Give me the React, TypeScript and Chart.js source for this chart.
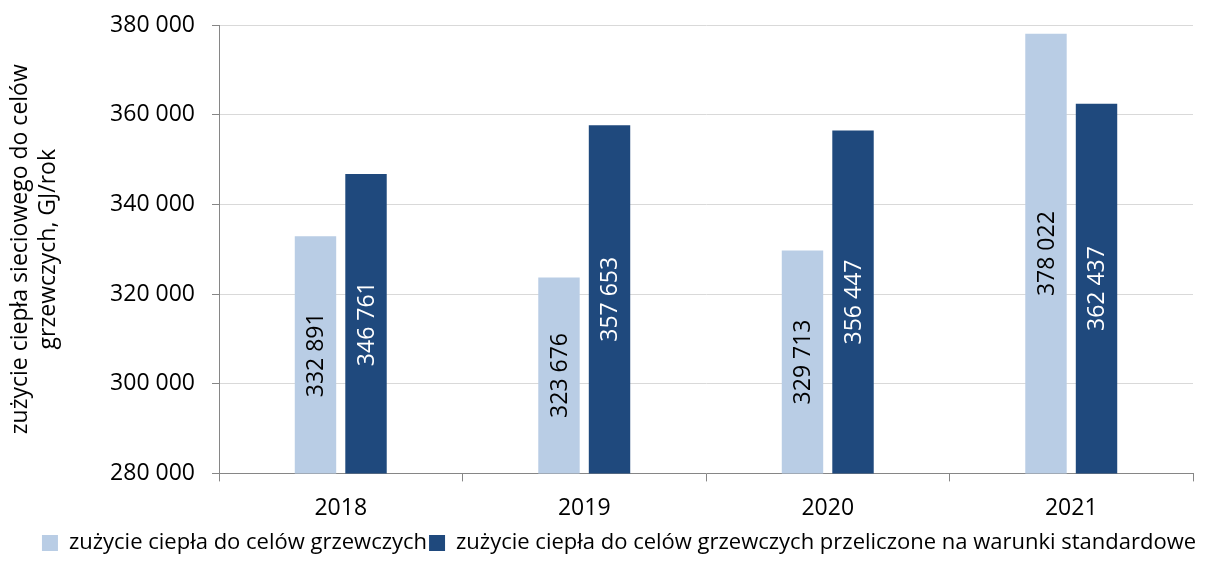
import React, { useEffect, useRef } from "react";
import { Chart, registerables } from "chart.js";

Chart.register(...registerables);

const categories = ["2018", "2019", "2020", "2021"];
const seriesNames = [
  "zużycie ciepła do celów grzewczych",
  "zużycie ciepła do celów grzewczych przeliczone na warunki standardowe",
];
const actualValues = [332891, 323676, 329713, 378022];
const standardValues = [346761, 357653, 356447, 362437];
const yAxisTitle = ["zużycie ciepła sieciowego do celów", "grzewczych, GJ/rok"];
const yMin = 280000;
const yMax = 380000;
const yStep = 20000;

const FONT = "'Open Sans', 'Liberation Sans', sans-serif";
const FS = 23;

const fmt = (v: number) =>
  String(Math.round(v)).replace(/\B(?=(\d{3})+(?!\d))/g, " ");

const labelPlugin = {
  id: "barLabels",
  afterDatasetsDraw(chart: any) {
    const ctx = chart.ctx;
    const bottom = chart.chartArea.bottom;
    chart.data.datasets.forEach((ds: any, di: number) => {
      const meta = chart.getDatasetMeta(di);
      meta.data.forEach((el: any, i: number) => {
        const base = Math.min(el.base, bottom);
        const cy = (el.y + base) / 2;
        ctx.save();
        ctx.translate(el.x, cy);
        ctx.rotate(-Math.PI / 2);
        ctx.font = FS + "px " + FONT;
        ctx.fillStyle = di === 0 ? "#000000" : "#FFFFFF";
        ctx.textAlign = "center";
        ctx.textBaseline = "middle";
        ctx.fillText(fmt(ds.data[i]), 0, 1);
        ctx.restore();
      });
    });
  },
};

export default function App() {
  const ref = useRef<HTMLCanvasElement | null>(null);
  useEffect(() => {
    if (!ref.current) return;
    const chart = new Chart(ref.current, {
      type: "bar",
      data: {
        labels: categories,
        datasets: [
          {
            label: seriesNames[0],
            data: actualValues,
            backgroundColor: "#B9CDE5",
            borderWidth: 0,
          },
          {
            label: seriesNames[1],
            data: standardValues,
            backgroundColor: "#1F497D",
            borderWidth: 0,
          },
        ],
      },
      options: {
        responsive: true,
        maintainAspectRatio: false,
        animation: false,
        categoryPercentage: 0.415,
        barPercentage: 0.82,
        layout: { padding: { left: 7, right: 0, top: 0, bottom: -3 } },
        plugins: {
          tooltip: { enabled: false },
          legend: {
            position: "bottom",
            labels: {
              font: { family: FONT, size: 22 },
              color: "#000000",
              boxWidth: 16,
              boxHeight: 16,
              padding: 2,
            },
          },
        },
        scales: {
          x: {
            afterFit: (scale: any) => {
              scale.height = scale.height - 5;
            },
            grid: {
              offset: true,
              drawOnChartArea: false,
              drawTicks: true,
              tickLength: 8,
              color: "#868686",
            },
            border: { color: "#868686", width: 1 },
            ticks: {
              font: { family: FONT, size: FS },
              color: "#000000",
              padding: 13,
            },
          },
          y: {
            min: yMin,
            max: yMax,
            afterFit: (scale: any) => {
              scale.width = 212;
              scale.paddingTop = 25;
            },
            ticks: {
              stepSize: yStep,
              font: { family: FONT, size: FS },
              color: "#000000",
              padding: 17,
              callback: (v: any) => fmt(Number(v)),
            },
            grid: {
              color: "#D9D9D9",
              tickColor: "#868686",
              tickLength: 7,
            },
            border: { color: "#868686", width: 1 },
            title: {
              display: true,
              text: yAxisTitle,
              font: { family: FONT, size: FS, lineHeight: 1.2 },
              color: "#000000",
              padding: { top: 0, bottom: 0 },
            },
          },
          yRight: {
            position: "right",
            display: true,
            grid: { display: false, drawTicks: false },
            border: { display: false },
            ticks: { display: false },
            afterFit: (scale: any) => {
              scale.width = 38;
            },
          },
        },
      },
      plugins: [labelPlugin],
    });
    return () => chart.destroy();
  }, []);
  return (
    <div style={{ position: "absolute", left: 0, top: 0, width: 1231, height: 561 }}>
      <canvas ref={ref} />
    </div>
  );
}
